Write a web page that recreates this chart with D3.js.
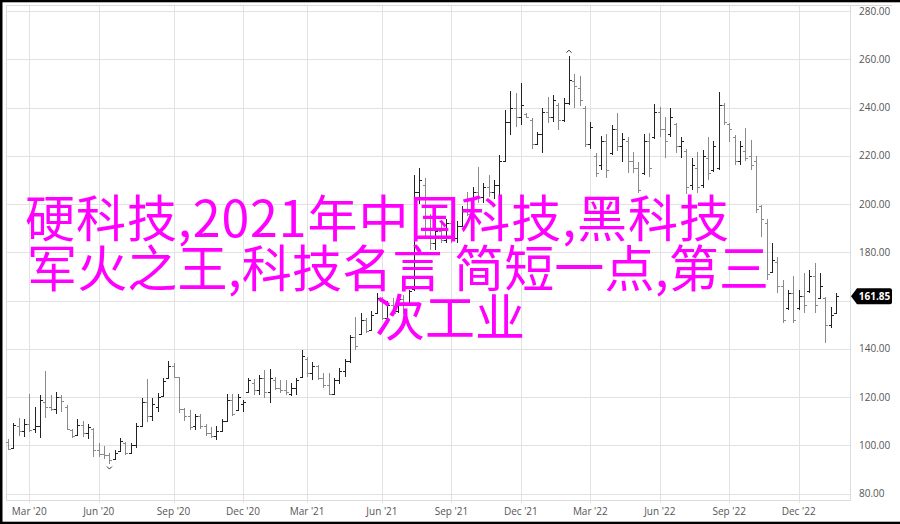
<!DOCTYPE html>
<html><head><meta charset="utf-8">
<script src="https://cdn.jsdelivr.net/npm/d3@7"></script>
<style>html,body{margin:0;padding:0;background:#fff;}svg{display:block;}</style>
</head><body><svg id="c" width="900" height="524"></svg>
<script>
const weeks = [
"2020-02-03","2020-02-10","2020-02-17","2020-02-24","2020-03-02","2020-03-09","2020-03-16","2020-03-23","2020-03-30",
"2020-04-06","2020-04-13","2020-04-20","2020-04-27","2020-05-04","2020-05-11","2020-05-18","2020-05-25",
"2020-06-01","2020-06-08","2020-06-15","2020-06-22","2020-06-29","2020-07-06","2020-07-13","2020-07-20","2020-07-27",
"2020-08-03","2020-08-10","2020-08-17","2020-08-24","2020-08-31","2020-09-07","2020-09-14","2020-09-21","2020-09-28",
"2020-10-05","2020-10-12","2020-10-19","2020-10-26","2020-11-02","2020-11-09","2020-11-16","2020-11-23","2020-11-30",
"2020-12-07","2020-12-14","2020-12-21","2020-12-28",
"2021-01-04","2021-01-11","2021-01-18","2021-01-25","2021-02-01","2021-02-08","2021-02-15","2021-02-22",
"2021-03-01","2021-03-08","2021-03-15","2021-03-22","2021-03-29","2021-04-05","2021-04-12","2021-04-19","2021-04-26",
"2021-05-03","2021-05-10","2021-05-17","2021-05-24","2021-05-31","2021-06-07","2021-06-14","2021-06-21","2021-06-28",
"2021-07-05","2021-07-12","2021-07-19","2021-07-26","2021-08-02","2021-08-09","2021-08-16","2021-08-23","2021-08-30",
"2021-09-06","2021-09-13","2021-09-20","2021-09-27","2021-10-04","2021-10-11","2021-10-18","2021-10-25",
"2021-11-01","2021-11-08","2021-11-15","2021-11-22","2021-11-29","2021-12-06","2021-12-13","2021-12-20","2021-12-27",
"2022-01-03","2022-01-10","2022-01-17","2022-01-24","2022-01-31","2022-02-07","2022-02-14","2022-02-21","2022-02-28",
"2022-03-07","2022-03-14","2022-03-21","2022-03-28","2022-04-04","2022-04-11","2022-04-18","2022-04-25",
"2022-05-02","2022-05-09","2022-05-16","2022-05-23","2022-05-30","2022-06-06","2022-06-13","2022-06-20","2022-06-27",
"2022-07-04","2022-07-11","2022-07-18","2022-07-25","2022-08-01","2022-08-08","2022-08-15","2022-08-22","2022-08-29",
"2022-09-05","2022-09-12","2022-09-19","2022-09-26","2022-10-03","2022-10-10","2022-10-17","2022-10-24","2022-10-31",
"2022-11-07","2022-11-14","2022-11-21","2022-11-28","2022-12-05","2022-12-12","2022-12-19","2022-12-26",
"2023-01-02","2023-01-09","2023-01-16","2023-01-23"];

const opens = [101.5,99,108,106,109,107,108,118,116,115,120,116,106.5,104.5,108.5,105,107,98,96.5,96,94.5,97.5,101,97,100,108,118,112,116,120.5,
128,133,128.5,115,112,108,112,108,105,104,106,110,119,114.5,117,122,126,123,128,122,127,124,123,121.5,124,128.5,136,130,133,128,
125,121.5,127,131,135,145,146,152,148,155,160,153,158,155.5,160.5,159,165,205,208,190,184,189,185,192,186,191,197,198,205,203,
207,205,208,218,234,240,236,237.5,235,225,229,238,236,241,235,242,251,248,240,225,220,216,226,221,231,224,226,218,215,213,
226,228,238,231,229,233,224,222,208,215,208,219,214,215,241,233,228,218,222,220,218,199,192,172,176,166,157,163,157,162,
164,170,161,161,150,155];
const highs = [102.5,109.5,111.5,111,121.3,116,120.7,130.8,120.9,122,121,116.8,107,111,110,109,107.2,101,99.8,97,98.3,103,101.5,101,109.2,119.5,
127.4,119.5,121.6,127.8,135,134,128.5,115.5,114.8,113,113,108.7,107.7,108,111,121.4,121.4,121.4,119,128,127.4,129,131.3,131.6,
128.5,127,127,126,128,139.5,136.5,134.7,133.5,130,129.9,128,132,136,145.8,153.3,154.8,153,155.5,163,161.6,160,161,162,162.5,
164.4,212,215,211,196,192,193.3,194,193,193,199,205,207,215.5,208.6,212,210,220.3,239,247,246,250,237.8,235.6,230,240,244.5,
245,241.7,243.8,261.5,254,253,240.5,234,221,228.4,229,232.8,237.6,229.4,228,221.7,217.6,229,229.4,241.5,240.3,236.2,240,233.5,
228,223,219,221.7,222.4,228,226,246.6,241.8,233.5,228.5,226,231.6,226.5,220,199.5,194,183.7,178,168.5,164.4,170,164.4,171.3,
172.7,175.5,171.3,161.6,157.5,163];
const lows = [98,98.5,104,103.5,105.5,105,103,111.2,114.4,113,114,106.4,103,104,103.6,102.8,95.3,95.2,94.2,92.5,94.5,97.5,96,96.5,99,107.8,
109.8,110,114,120.2,127.8,127.8,113.3,110,106.4,106.6,107,104,103.2,102.3,105.5,109.6,112.3,114.3,114,121.6,121,121,119.5,117.5,
123,121.6,121,120.3,121,128.5,128.5,127.1,127,124,120.9,120.9,125.5,128.5,134,139.5,145.8,146.5,148,154.7,152,152.5,154,155,
154.6,159,164,200,186,181,181,183.8,184,184,184,190.6,195,197.5,200.4,200.4,203,202,203,217.6,228.6,232,232.7,235.5,223,224.5,
221,233.5,234,230.6,234.2,241,240,240.5,223.8,223,211.3,214,211,220.3,222,217.4,213,212.9,204.6,212,211.3,227,227.9,219,228,
221,219,204,205.8,204.6,206.5,210,213.4,214.2,232.8,225.8,216.2,216.3,217.7,214,196.5,186.5,168.5,171.3,163,150.7,156.1,150.6,
156.1,154.7,163,154.7,160.6,142.4,148.5,154.8];
const closes = [98.5,108.5,106,109,106.5,108,119,116,115,120,118.5,107,104,108.5,105,107.5,98,96.5,96,94,97,102,97,100,108,118,112,117,120,126.5,
133,128.5,115,112,107.5,112,108,105,104,106,110,119,113,120,118,127,123,128,122,128,124,123,122,124,127,137,130,133,128,125,
121.5,127,131,135,145,141,152,147.5,154,161,153,158,155,160.5,159,164,205,210,190,184,189,185,192,186,191,197,196,205,203,207,
205,208,218,234,240,236,241,236,225,229,238,236,243,235,242,251.5,249,243,225,232,213,226,214,231,224,227,218,215,206,226,
215,238,231,226,236,224,226,207,216,207,220,213,224,241,234,231,218,224,219,216,198,194,171,177,166,152,163,152,162,158,
170,158,166,150,154,161.85];

const tickDates = ["2020-03-02","2020-06-01","2020-09-07","2020-12-07","2021-03-01","2021-06-07","2021-09-06","2021-12-06","2022-03-07","2022-06-06","2022-09-05","2022-12-05"];
const tickLabels = ["Mar '20","Jun '20","Sep '20","Dec '20","Mar '21","Jun '21","Sep '21","Dec '21","Mar '22","Jun '22","Sep '22","Dec '22"];
const priceTicks = [80,100,120,140,160,180,200,220,240,260,280];
const lastPrice = 161.85;
const overlayLines = ["硬科技,2021年中国科技,黑科技","军火之王,科技名言 简短一点,第三","次工业"];

const parse = d3.utcParse("%Y-%m-%d");
const bars = weeks.map((w,i)=>({d:parse(w),o:opens[i],h:highs[i],l:lows[i],c:closes[i]}));

const L=6,R=850,T=5,B=500;
const svg = d3.select("#c");
const x = d3.scaleUtc().domain([parse("2020-03-02"),parse("2022-12-05")]).range([29.3,798.7]);
const y = d3.scaleLinear().domain([80,280]).range([493.7,11]);

svg.append("rect").attr("width",900).attr("height",524).attr("fill","#fff");

const grid = svg.append("g").attr("stroke","#e2e2e2").attr("stroke-width",1).attr("shape-rendering","crispEdges");
grid.selectAll("line.h").data(priceTicks).join("line")
  .attr("x1",L).attr("x2",R).attr("y1",d=>Math.round(y(d))+0.5).attr("y2",d=>Math.round(y(d))+0.5);
grid.selectAll("line.v").data(tickDates).join("line")
  .attr("x1",d=>Math.round(x(parse(d)))+0.5).attr("x2",d=>Math.round(x(parse(d)))+0.5)
  .attr("y1",T).attr("y2",B+3);
const fr = svg.append("g").attr("stroke","#dcdcdc").attr("shape-rendering","crispEdges");
fr.append("line").attr("x1",L).attr("x2",892).attr("y1",T+0.5).attr("y2",T+0.5);
fr.append("line").attr("x1",L+0.5).attr("x2",L+0.5).attr("y1",T).attr("y2",B);
fr.append("line").attr("x1",L).attr("x2",R).attr("y1",B+0.5).attr("y2",B+0.5);
fr.append("line").attr("x1",R+0.5).attr("x2",R+0.5).attr("y1",T).attr("y2",B+1);

// axis labels (the one hidden behind the last-price box is not drawn)
svg.append("g").selectAll("text").data(priceTicks.filter(d=>Math.abs(y(d)-y(lastPrice))>10)).join("text")
  .attr("x",859).attr("y",d=>y(d)).attr("dy","0.35em")
  .attr("font-family","'Open Sans', sans-serif").attr("font-size",10).attr("fill","#555")
  .text(d=>d3.format(".2f")(d));
svg.append("g").selectAll("text").data(tickDates).join("text")
  .attr("x",d=>x(parse(d))).attr("y",515).attr("text-anchor","middle")
  .attr("font-family","'Open Sans', sans-serif").attr("font-size",10).attr("fill","#555")
  .text((d,i)=>tickLabels[i]);

// OHLC bars
const bg = svg.append("g").attr("shape-rendering","crispEdges");
const col = d => d.c >= d.o ? "#222" : "#8a8a8a";
bars.forEach(d=>{
  const xi = Math.round(x(d.d))+0.5;
  const g = bg.append("g").attr("stroke",col(d)).attr("stroke-width",1);
  g.append("line").attr("x1",xi).attr("x2",xi).attr("y1",Math.round(y(d.h))).attr("y2",Math.round(y(d.l)));
  g.append("line").attr("x1",xi-2.5).attr("x2",xi).attr("y1",Math.round(y(d.o))+0.5).attr("y2",Math.round(y(d.o))+0.5);
  g.append("line").attr("x1",xi).attr("x2",xi+2.5).attr("y1",Math.round(y(d.c))+0.5).attr("y2",Math.round(y(d.c))+0.5);
});
const hi = bars.reduce((a,b)=>b.h>a.h?b:a), lo = bars.reduce((a,b)=>b.l<a.l?b:a);
svg.append("path").attr("d",`M${x(hi.d)-2.5},${y(hi.h)-3} L${x(hi.d)},${y(hi.h)-5.5} L${x(hi.d)+2.5},${y(hi.h)-3}`)
  .attr("fill","none").attr("stroke","#333");
svg.append("path").attr("d",`M${x(lo.d)-2.5},${y(lo.l)+3} L${x(lo.d)},${y(lo.l)+5.5} L${x(lo.d)+2.5},${y(lo.l)+3}`)
  .attr("fill","none").attr("stroke","#333");

// last price label
const ly = y(lastPrice);
svg.append("path").attr("d",`M851,${ly} L857,${ly-8} H890 Q892,${ly-8} 892,${ly-6} V${ly+6} Q892,${ly+8} 890,${ly+8} H857 Z`).attr("fill","#000");
svg.append("text").attr("x",874.5).attr("y",ly).attr("dy","0.36em").attr("text-anchor","middle")
  .attr("font-family","'Open Sans', sans-serif").attr("font-size",10).attr("font-weight","bold").attr("fill","#fff")
  .text(d3.format(".2f")(lastPrice));

// black frame edges
svg.append("rect").attr("x",0).attr("y",0).attr("width",2.5).attr("height",524).attr("fill","#000");
svg.append("rect").attr("x",0).attr("y",0).attr("width",900).attr("height",2.3).attr("fill","#000");
svg.append("rect").attr("x",0).attr("y",521.7).attr("width",900).attr("height",2.3).attr("fill","#000");

// overlay text
const ox=[25,27,375], oy=[237,286.5,336], ow=[704,742,150];
svg.append("g").selectAll("text").data(overlayLines).join("text")
  .attr("x",(d,i)=>ox[i]).attr("y",(d,i)=>oy[i])
  .attr("textLength",(d,i)=>ow[i]).attr("lengthAdjust","spacing")
  .attr("font-family","'Noto Sans CJK SC', sans-serif").attr("font-size",50).attr("fill","#ff00ff")
  .style("white-space","pre").text(d=>d);
</script></body></html>
